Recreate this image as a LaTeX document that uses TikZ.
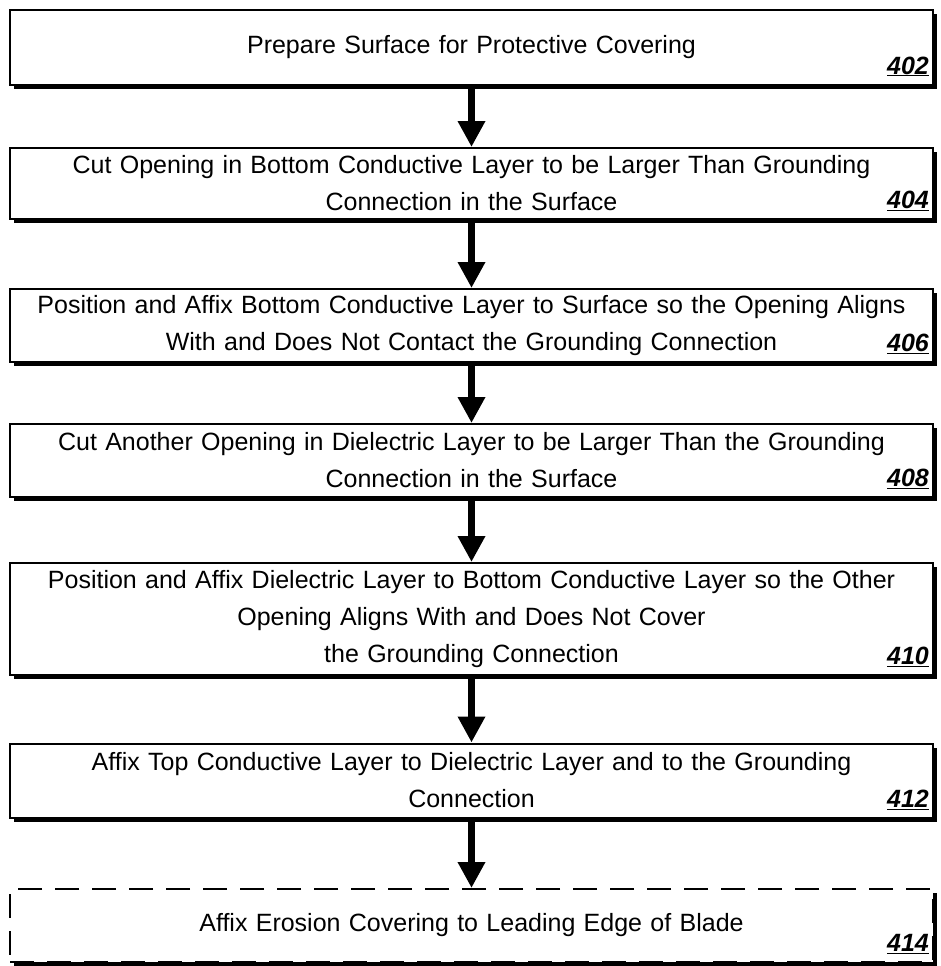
\documentclass[tikz,border=0pt]{standalone}
\usepackage{fontspec}
\setmainfont{Liberation Sans}
\usetikzlibrary{shapes.geometric, arrows.meta, calc, shadows}
\tikzstyle{process} = [rectangle, minimum width=923pt, minimum height=74pt, text width=910pt, inner xsep=6pt, align=center, draw=black, line width=2pt, fill=white, drop shadow={shadow xshift=4pt, shadow yshift=-4pt, fill=black, opacity=1}, font=\fontsize{25}{37}\selectfont]
\tikzstyle{ref} = [anchor=south east, inner sep=0pt, font=\fontsize{25}{30}\selectfont\bfseries\itshape]
\tikzstyle{flow} = [line width=7pt, -{Triangle[length=26pt, width=26pt]}]

\begin{document}
\begin{tikzpicture}[x=1pt, y=1pt]
		\useasboundingbox (0,0) rectangle (941,-966);
		\node (prepare) [process] at (471.5,-47.5) {Prepare Surface for Protective Covering};
		\node (cutbottom) [process, minimum height=71pt] at ($(prepare) + (0, -136)$) {Cut Opening in Bottom Conductive Layer to be Larger Than Grounding\\Connection in the Surface};
		\node (affixbottom) [process, minimum height=73pt] at ($(cutbottom) + (0, -142)$) {Position and Affix Bottom Conductive Layer to Surface so the Opening Aligns\\With and Does Not Contact the Grounding Connection};
		\node (cutdielectric) [process, minimum height=73pt] at ($(affixbottom) + (0, -135)$) {Cut Another Opening in Dielectric Layer to be Larger Than the Grounding\\Connection in the Surface};
		\node (affixdielectric) [process, minimum height=112pt] at ($(cutdielectric) + (0, -158.5)$) {Position and Affix Dielectric Layer to Bottom Conductive Layer so the Other\\Opening Aligns With and Does Not Cover\\the Grounding Connection};
		\node (affixtop) [process] at ($(affixdielectric) + (0, -161.5)$) {Affix Top Conductive Layer to Dielectric Layer and to the Grounding\\Connection};
		\node (erosion) [process, minimum height=73pt, dash pattern=on 24pt off 13pt] at ($(affixtop) + (0, -145)$) {Affix Erosion Covering to Leading Edge of Blade};
		
		% reference numbers
		\node (n402) [ref] at ($(prepare.south east) + (-5, 9)$) {\underline{402}};
		\node (n404) [ref] at ($(cutbottom.south east) + (-5, 9)$) {\underline{404}};
		\node (n406) [ref] at ($(affixbottom.south east) + (-5, 9)$) {\underline{406}};
		\node (n408) [ref] at ($(cutdielectric.south east) + (-5, 9)$) {\underline{408}};
		\node (n410) [ref] at ($(affixdielectric.south east) + (-5, 9)$) {\underline{410}};
		\node (n412) [ref] at ($(affixtop.south east) + (-5, 9)$) {\underline{412}};
		\node (n414) [ref] at ($(erosion.south east) + (-5, 9)$) {\underline{414}};
		
		\draw[flow] (prepare) -- (cutbottom);
		\draw[flow] (cutbottom) -- (affixbottom);
		\draw[flow] (affixbottom) -- (cutdielectric);
		\draw[flow] (cutdielectric) -- (affixdielectric);
		\draw[flow] (affixdielectric) -- (affixtop);
		\draw[flow] (affixtop) -- (erosion);
	\end{tikzpicture}
\end{document}
